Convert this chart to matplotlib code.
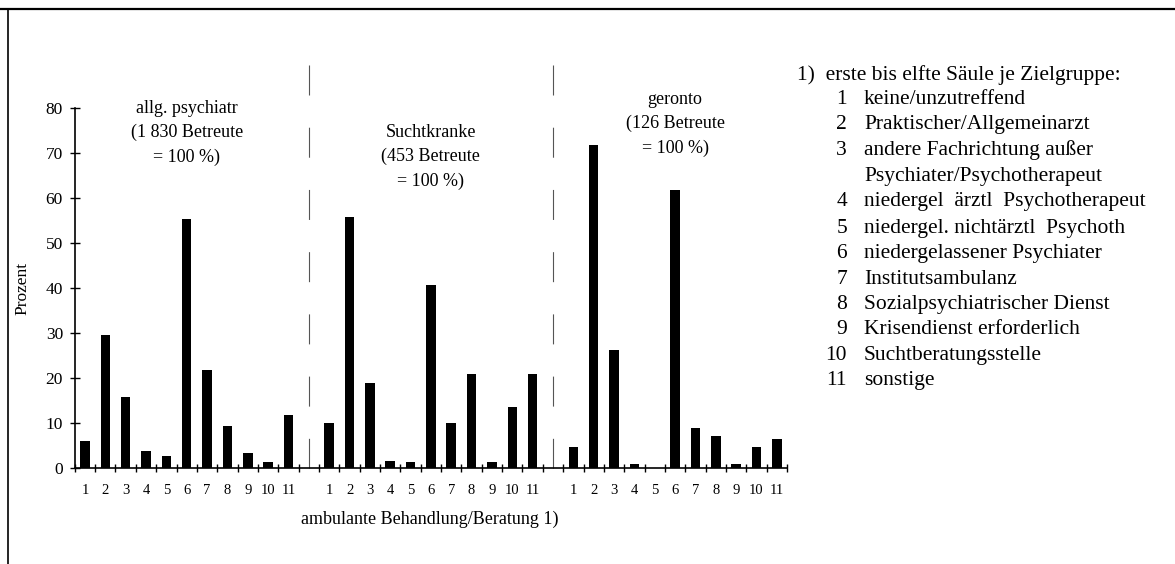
import numpy as np
import matplotlib.pyplot as plt
from matplotlib.lines import Line2D

plt.rcParams['font.family'] = ['Liberation Serif', 'DejaVu Serif']

# Werte je Zielgruppe (Prozent), Säulen 1..11
psych = [6.1, 29.6, 15.8, 3.8, 2.7, 55.3, 21.8, 9.3, 3.5, 1.4, 11.8]
sucht = [10.1, 55.9, 19.0, 1.7, 1.3, 40.7, 10.0, 21.0, 1.3, 13.5, 21.0]
geronto = [4.7, 71.8, 26.3, 0.9, 0.0, 61.7, 8.9, 7.2, 1.0, 4.8, 6.4]

group_titles = [["allg. psychiatr", "(1 830 Betreute", "= 100 %)"],
                ["Suchtkranke", "(453 Betreute", "= 100 %)"],
                ["geronto", "(126 Betreute", "= 100 %)"]]
bar_labels = [str(i) for i in range(1, 12)]
legend_items = ["keine/unzutreffend",
                "Praktischer/Allgemeinarzt",
                "andere Fachrichtung außer",
                "niedergel  ärztl  Psychotherapeut",
                "niedergel. nichtärztl  Psychoth",
                "niedergelassener Psychiater",
                "Institutsambulanz",
                "Sozialpsychiatrischer Dienst",
                "Krisendienst erforderlich",
                "Suchtberatungsstelle",
                "sonstige"]

W, H = 1175, 564
fig = plt.figure(figsize=(W / 100, H / 100), dpi=100)
ax = fig.add_axes([74.8 / W, (H - 468.3) / H, (787 - 74.8) / W, 360.3 / H])

groups = [psych, sucht, geronto]
centers = []
for g, vals in enumerate(groups):
    x = np.arange(11) + g * 12
    ax.bar(x, vals, width=0.47, color='black')
    centers.extend(x)

ax.set_xlim(-0.5, 34.5)
ax.set_ylim(0, 80)
for s in ['top', 'right']:
    ax.spines[s].set_visible(False)
for s in ['left', 'bottom']:
    ax.spines[s].set_linewidth(1.2)

ax.set_xticks(np.arange(-0.5, 35, 1))
ax.set_xticklabels([])
ax.set_xticks(centers, minor=True)
ax.set_xticklabels(bar_labels * 3, minor=True, fontsize=10.5)
ax.tick_params(axis='x', which='major', direction='inout', length=6, width=1)
ax.tick_params(axis='x', which='minor', length=0, pad=11)
ax.set_yticks(np.arange(0, 81, 10))
ax.tick_params(axis='y', direction='inout', length=7, width=1, labelsize=12.5, pad=5)

# Trennlinien zwischen den Zielgruppen
for xd in [11, 23]:
    ax.plot([xd, xd], [89.6, 0], color='#555555', lw=0.8,
            dashes=(27, 29), clip_on=False)

# Gruppentitel (drei Zeilen je Gruppe)
title_top = [108, 132, 99]   # Pixelhöhe der ersten Zeile
for g in range(3):
    for k, line in enumerate(group_titles[g]):
        yy = (468.3 - (title_top[g] + 24.5 * k + 5)) / 4.5
        ax.text(5 + g * 12, yy, line, ha='center', va='baseline', fontsize=13, clip_on=False)

fig.text(22 / W, 1 - 288 / H, 'Prozent', rotation=90, ha='center', va='center', fontsize=12.5)
fig.text(430 / W, 1 - 519 / H, 'ambulante Behandlung/Beratung 1)', ha='center', va='center',
         fontsize=13)

# Legende rechts
fs = 15.5
off = 6
fig.text(797 / W, 1 - (74 + off) / H, '1)  erste bis elfte Säule je Zielgruppe:', ha='left', va='baseline', fontsize=fs)
ys = [98, 123, 149, 200, 227, 252, 278, 303, 328, 354, 379]
for i, (yy, txt) in enumerate(zip(ys, legend_items)):
    fig.text(847 / W, 1 - (yy + off) / H, str(i + 1), ha='right', va='baseline', fontsize=fs)
    fig.text(864 / W, 1 - (yy + off) / H, txt, ha='left', va='baseline', fontsize=fs)
fig.text(864 / W, 1 - (175 + off) / H, 'Psychiater/Psychotherapeut', ha='left', va='baseline', fontsize=fs)

# Rahmen
fig.add_artist(Line2D([0, 1], [1 - 9 / H, 1 - 9 / H], transform=fig.transFigure, color='black', lw=1.6))
fig.add_artist(Line2D([8 / W, 8 / W], [0, 1 - 9 / H], transform=fig.transFigure, color='black', lw=1.2))

fig.savefig('out.png', dpi=100)
